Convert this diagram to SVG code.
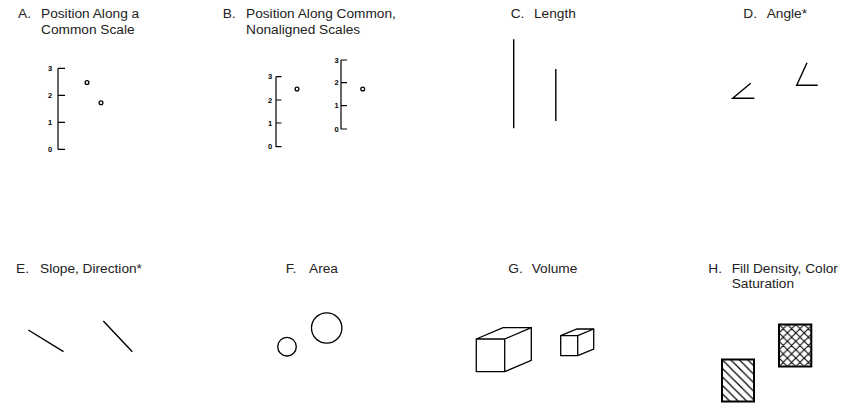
<svg xmlns="http://www.w3.org/2000/svg" width="865" height="407" viewBox="0 0 865 407">
<style>
.t{font-family:"Liberation Sans",Arial,sans-serif;font-size:13.7px;fill:#222}
.n{font-family:"Liberation Sans",Arial,sans-serif;font-size:7.5px;font-weight:bold;fill:#000;text-anchor:middle}
.ax{stroke:#000;stroke-width:1.2;fill:none}
.pt{stroke:#000;stroke-width:1.3;fill:#fff}
.ln{stroke:#000;stroke-width:1.4;fill:none;stroke-linecap:butt}
.sh{stroke:#000;stroke-width:1.3;fill:none;stroke-linejoin:miter}
.bx{stroke:#000;stroke-width:2}
</style>
<defs>
<pattern id="hatch" width="8.5" height="8.5" patternUnits="userSpaceOnUse" x="722" y="359.5">
<path d="M-2,-2 L10.5,10.5 M-2,6.5 L2,10.5 M6.5,-2 L10.5,2" stroke="#000" stroke-width="1.2"/>
</pattern>
<pattern id="cross" width="8.4" height="8.4" patternUnits="userSpaceOnUse" x="779" y="324.5">
<path d="M-2,-2 L10.4,10.4 M-2,6.4 L2,10.4 M6.4,-2 L10.4,2 M-2,10.4 L10.4,-2 M-2,2 L2,-2 M6.4,10.4 L10.4,6.4" stroke="#000" stroke-width="1.1"/>
</pattern>
</defs>
<rect width="865" height="407" fill="#fff"/>

<g id="panelA">
<text class="t" x="18" y="18.3">A.</text>
<text class="t" x="41" y="18.3">Position Along a</text>
<text class="t" x="41" y="34.3">Common Scale</text>
<path class="ax" d="M58,68.3 V149.5 M58,68.3 H65 M58,95.3 H65 M58,122.3 H65 M58,149.3 H65"/>
<text class="n" x="50" y="71">3</text>
<text class="n" x="50" y="98">2</text>
<text class="n" x="50" y="125">1</text>
<text class="n" x="50" y="152">0</text>
<circle class="pt" cx="87" cy="82.5" r="1.9"/>
<circle class="pt" cx="101" cy="102.7" r="1.9"/>
</g>

<g id="panelB">
<text class="t" x="222.7" y="18.3">B.</text>
<text class="t" x="246" y="18.3">Position Along Common,</text>
<text class="t" x="246" y="34.3">Nonaligned Scales</text>
<path class="ax" d="M276,76.7 V147 M276,76.7 H281.5 M276,100 H281.5 M276,123 H281.5 M276,146.7 H281.5"/>
<text class="n" x="270" y="79.4">3</text>
<text class="n" x="270" y="102.7">2</text>
<text class="n" x="270" y="125.7">1</text>
<text class="n" x="270" y="149.4">0</text>
<circle class="pt" cx="297" cy="89" r="1.9"/>
<path class="ax" d="M341,60 V129.3 M341,60 H347 M341,82.7 H347 M341,105.7 H347 M341,129 H347"/>
<text class="n" x="336.5" y="62.7">3</text>
<text class="n" x="336.5" y="85.4">2</text>
<text class="n" x="336.5" y="108.4">1</text>
<text class="n" x="336.5" y="131.7">0</text>
<circle class="pt" cx="362.7" cy="89" r="1.9"/>
</g>

<g id="panelC">
<text class="t" x="510.7" y="18.3">C.</text>
<text class="t" x="534" y="18.3">Length</text>
<line class="ln" x1="513.7" y1="39.3" x2="513.7" y2="128.3"/>
<line class="ln" x1="555.8" y1="69" x2="555.8" y2="121" stroke-width="1.8"/>
</g>

<g id="panelD">
<text class="t" x="743.3" y="18.3">D.</text>
<text class="t" x="766.7" y="18.3">Angle*</text>
<path class="ln" d="M750.7,83.3 L732.7,98.3 H754.3"/>
<path class="ln" d="M807,62.7 L796.7,85.3 H817.7"/>
</g>

<g id="panelE">
<text class="t" x="16" y="272.7">E.</text>
<text class="t" x="40" y="272.7">Slope, Direction*</text>
<line class="ln" x1="28.3" y1="330" x2="63.5" y2="351.7"/>
<line class="ln" x1="103.3" y1="321" x2="132.3" y2="351.7"/>
</g>

<g id="panelF">
<text class="t" x="285.7" y="272.7">F.</text>
<text class="t" x="309" y="272.7">Area</text>
<circle class="sh" cx="287" cy="346.7" r="9.3"/>
<circle class="sh" cx="326.7" cy="328" r="15.2"/>
</g>

<g id="panelG">
<text class="t" x="508.3" y="272.7">G.</text>
<text class="t" x="531.7" y="272.7">Volume</text>
<path class="sh" d="M476.3,339 H504.7 V371.7 H476.3 Z M476.3,339 L503,327.7 H531.3 V360.4 L504.7,371.7 M504.7,339 L531.3,327.7"/>
<path class="sh" d="M560.7,335.7 H577.7 V355.7 H560.7 Z M560.7,335.7 L577,329 H593.7 V349 L577.7,355.7 M577.7,335.7 L593.7,329"/>
</g>

<g id="panelH">
<text class="t" x="708.3" y="272.7">H.</text>
<text class="t" x="731.7" y="272.7">Fill Density, Color</text>
<text class="t" x="731.7" y="288.3">Saturation</text>
<rect class="bx" x="722" y="359.5" width="32" height="42" fill="url(#hatch)"/>
<rect class="bx" x="779" y="324.5" width="32.3" height="42" fill="url(#cross)"/>
</g>
</svg>
